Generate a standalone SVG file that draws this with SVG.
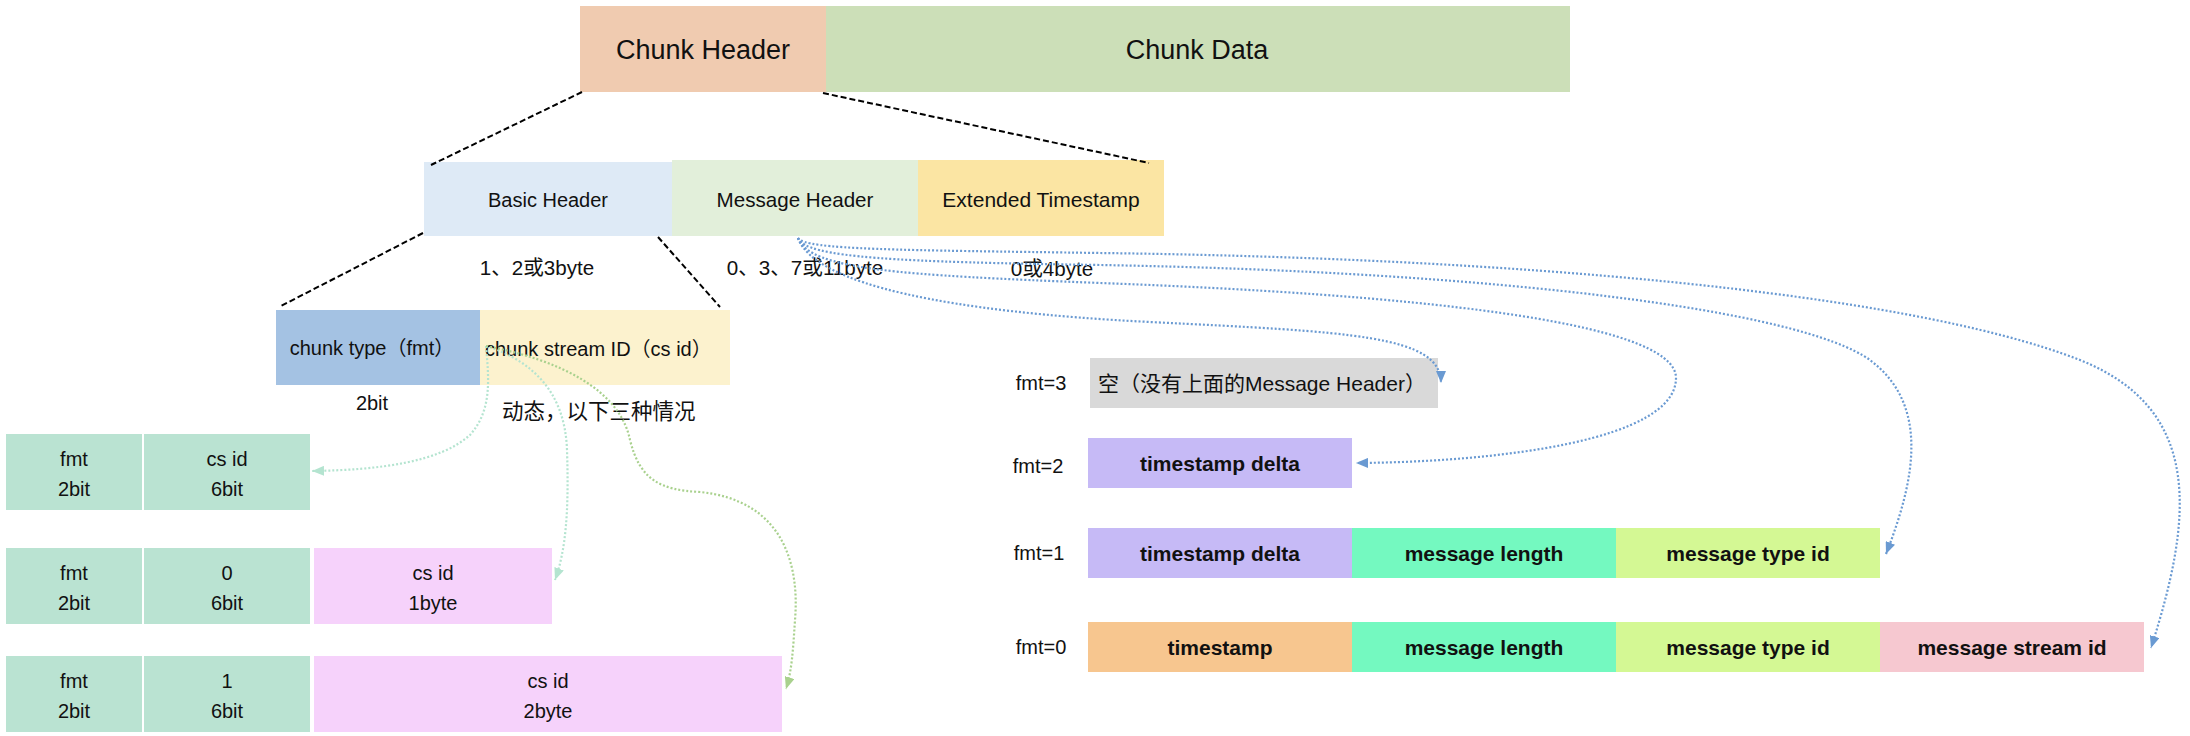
<svg xmlns="http://www.w3.org/2000/svg" width="2190" height="736" viewBox="0 0 2190 736">
<defs>
<style>
text{font-family:"Liberation Sans","Noto Sans CJK SC",sans-serif;font-size:20px;fill:#111;}
.c{text-anchor:middle;}
.b{font-weight:bold;font-size:21px;}
.big{font-size:27px;}
.m{font-size:20.6px;}
.dash{fill:none;stroke:#000;stroke-width:2;stroke-dasharray:6,3;}
.blue{fill:none;stroke:#6A9AD2;stroke-width:2.2;stroke-dasharray:2,2;}
.g1{fill:none;stroke:#B4E4D0;stroke-width:2.2;stroke-dasharray:2,2;}
.g3{fill:none;stroke:#A9D18E;stroke-width:2.2;stroke-dasharray:2,2;}
</style>
<marker id="ab" viewBox="0 0 12 10" refX="12" refY="5" markerWidth="12" markerHeight="10" markerUnits="userSpaceOnUse" orient="auto"><path d="M0,0 L12,5 L0,10 Z" fill="#6A9AD2"/></marker>
<marker id="ag1" viewBox="0 0 12 10" refX="12" refY="5" markerWidth="12" markerHeight="10" markerUnits="userSpaceOnUse" orient="auto"><path d="M0,0 L12,5 L0,10 Z" fill="#B4E4D0"/></marker>
<marker id="ag3" viewBox="0 0 12 10" refX="12" refY="5" markerWidth="12" markerHeight="10" markerUnits="userSpaceOnUse" orient="auto"><path d="M0,0 L12,5 L0,10 Z" fill="#A9D18E"/></marker>
</defs>
<rect width="2190" height="736" fill="#fff"/>

<g id="chunk-header"><rect x="580" y="6" width="246" height="86" fill="#F0CBB0"/><text class="c big" x="703" y="59">Chunk Header</text></g>
<g id="chunk-data"><rect x="826" y="6" width="744" height="86" fill="#CCDFB8"/><text class="c big" x="1197" y="59">Chunk Data</text></g>

<g id="basic-header"><rect x="424" y="162" width="248" height="74" fill="#DEEAF6"/><text class="c" x="548" y="207">Basic Header</text></g>
<g id="message-header"><rect x="672" y="160" width="246" height="76" fill="#E2EFDA"/><text class="c m" x="795" y="207">Message Header</text></g>
<g id="extended-timestamp"><rect x="918" y="160" width="246" height="76" fill="#FBE5A3"/><text class="c" x="1041" y="207" style="font-size:21px">Extended Timestamp</text></g>

<g id="size-labels">
<text class="c m" x="537" y="275">1、2或3byte</text>
<text class="c m" x="805" y="275">0、3、7或11byte</text>
<text class="c m" x="1052" y="276">0或4byte</text>
</g>

<g id="chunk-type"><rect x="276" y="310" width="204" height="75" fill="#A4C2E3"/><text class="c" x="372" y="355">chunk type（fmt）</text><text class="c" x="372" y="410">2bit</text></g>
<g id="chunk-stream-id"><rect x="480" y="310" width="250" height="75" fill="#FCF2CE"/><text x="485" y="356">chunk stream ID（cs id）</text><text x="502" y="419" style="font-size:21.5px">动态，以下三种情况</text></g>

<g id="csid-row1">
<rect x="6" y="434" width="136" height="76" fill="#BAE3D2"/><text class="c" x="74" y="466">fmt</text><text class="c" x="74" y="496">2bit</text>
<rect x="144" y="434" width="166" height="76" fill="#BAE3D2"/><text class="c" x="227" y="466">cs id</text><text class="c" x="227" y="496">6bit</text>
</g>
<g id="csid-row2">
<rect x="6" y="548" width="136" height="76" fill="#BAE3D2"/><text class="c" x="74" y="580">fmt</text><text class="c" x="74" y="610">2bit</text>
<rect x="144" y="548" width="166" height="76" fill="#BAE3D2"/><text class="c" x="227" y="580">0</text><text class="c" x="227" y="610">6bit</text>
<rect x="314" y="548" width="238" height="76" fill="#F6D2FB"/><text class="c" x="433" y="580">cs id</text><text class="c" x="433" y="610">1byte</text>
</g>
<g id="csid-row3">
<rect x="6" y="656" width="136" height="76" fill="#BAE3D2"/><text class="c" x="74" y="688">fmt</text><text class="c" x="74" y="718">2bit</text>
<rect x="144" y="656" width="166" height="76" fill="#BAE3D2"/><text class="c" x="227" y="688">1</text><text class="c" x="227" y="718">6bit</text>
<rect x="314" y="656" width="468" height="76" fill="#F6D2FB"/><text class="c" x="548" y="688">cs id</text><text class="c" x="548" y="718">2byte</text>
</g>

<g id="fmt3"><text class="c" x="1041" y="390">fmt=3</text><rect x="1090" y="358" width="348" height="50" fill="#D9D9D9"/><text x="1098" y="391" style="font-size:21px">空（没有上面的Message Header）</text></g>
<g id="fmt2"><text class="c" x="1038" y="473">fmt=2</text><rect x="1088" y="438" width="264" height="50" fill="#C6BAF6"/><text class="c b" x="1220" y="471">timestamp delta</text></g>
<g id="fmt1"><text class="c" x="1039" y="560">fmt=1</text>
<rect x="1088" y="528" width="264" height="50" fill="#C6BAF6"/><text class="c b" x="1220" y="561">timestamp delta</text>
<rect x="1352" y="528" width="264" height="50" fill="#74F9C0"/><text class="c b" x="1484" y="561">message length</text>
<rect x="1616" y="528" width="264" height="50" fill="#D4F894"/><text class="c b" x="1748" y="561">message type id</text>
</g>
<g id="fmt0"><text class="c" x="1041" y="654">fmt=0</text>
<rect x="1088" y="622" width="264" height="50" fill="#F7C68F"/><text class="c b" x="1220" y="655">timestamp</text>
<rect x="1352" y="622" width="264" height="50" fill="#74F9C0"/><text class="c b" x="1484" y="655">message length</text>
<rect x="1616" y="622" width="264" height="50" fill="#D4F894"/><text class="c b" x="1748" y="655">message type id</text>
<rect x="1880" y="622" width="264" height="50" fill="#F6C8D0"/><text class="c b" x="2012" y="655">message stream id</text>
</g>

<g id="connectors">
<path class="dash" d="M582,92 L431,165"/>
<path class="dash" d="M823,93 L1149,163"/>
<path class="dash" d="M423,233 L279,307"/>
<path class="dash" d="M658,237 L720,307"/>

<path class="blue" marker-end="url(#ab)" d="M798,238 C815,285 950,312 1150,322 C1350,332 1441,335 1441,383"/>
<path class="blue" marker-end="url(#ab)" d="M798,238 C810,270 900,275 1100,283 C1400,294 1676,320 1676,378 C1676,440 1500,462 1356,463"/>
<path class="blue" marker-end="url(#ab)" d="M798,238 C805,258 900,262 1100,265 C1500,272 1800,310 1870,360 C1930,405 1915,480 1886,554"/>
<path class="blue" marker-end="url(#ab)" d="M798,238 C805,250 900,250 1100,253 C1500,258 1900,290 2080,360 C2205,410 2192,520 2151,648"/>

<path class="g1" marker-end="url(#ag1)" d="M486,346 C489,380 492,410 470,435 C440,462 380,470 312,471"/>
<path class="g1" marker-end="url(#ag1)" d="M486,346 C530,360 565,390 567,450 C569,510 566,550 555,580"/>
<path class="g3" marker-end="url(#ag3)" d="M486,346 C560,360 620,390 630,440 C640,480 660,490 700,492 C780,500 800,560 795,620 C793,650 792,670 786,689"/>
</g>
</svg>
